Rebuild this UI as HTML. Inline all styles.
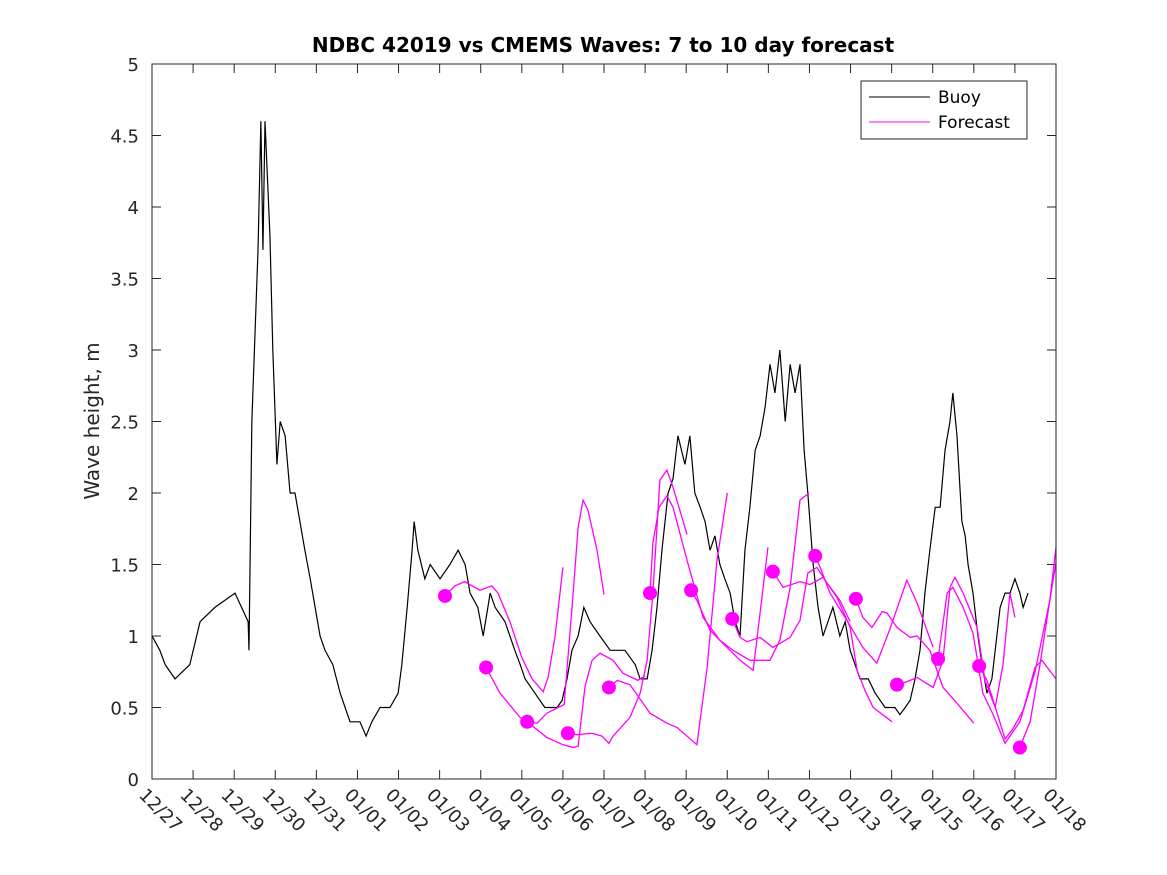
<!DOCTYPE html>
<html><head><meta charset="utf-8"><style>
body{margin:0;background:#fff;}
svg{display:block;font-family:"DejaVu Sans","Liberation Sans",sans-serif;}
</style></head><body>
<svg id="chart" width="1167" height="875" viewBox="0 0 1167 875">
<rect x="0" y="0" width="1167" height="875" fill="#fff"/>
<defs><clipPath id="clip"><rect x="152" y="64" width="904" height="715"/></clipPath></defs>
<text x="603" y="52" text-anchor="middle" font-size="20" font-weight="bold" fill="#000">NDBC 42019 vs CMEMS Waves: 7 to 10 day forecast</text>
<text transform="translate(99,421) rotate(-90)" text-anchor="middle" font-size="20" fill="#262626">Wave height, m</text>
<g id="axes"></g>
<g id="series" clip-path="url(#clip)"></g>
<rect x="152" y="64" width="904" height="715" fill="none" stroke="#262626" stroke-width="1"/>
<g>
<rect x="861" y="81" width="166" height="58" fill="#fff" stroke="#262626" stroke-width="1"/>
<line x1="869" y1="97" x2="930" y2="97" stroke="#000" stroke-width="1"/>
<text x="938" y="103" font-size="17" fill="#000">Buoy</text>
<line x1="869" y1="122" x2="930" y2="122" stroke="#f0f" stroke-width="1"/>
<text x="938" y="128" font-size="17" fill="#000">Forecast</text>
</g>
</svg>
<script>
const xTickLabels=["12/27","12/28","12/29","12/30","12/31","01/01","01/02","01/03","01/04","01/05","01/06","01/07","01/08","01/09","01/10","01/11","01/12","01/13","01/14","01/15","01/16","01/17","01/18"];
const yTicks=[0,0.5,1,1.5,2,2.5,3,3.5,4,4.5,5];
const yTickLabels=["0","0.5","1","1.5","2","2.5","3","3.5","4","4.5","5"];
const buoyDays=[0,0.19,0.32,0.56,0.92,1.17,1.53,2.02,2.34,2.36,2.43,2.58,2.65,2.70,2.75,2.87,2.94,3.04,3.12,3.24,3.36,3.48,3.60,3.72,3.85,3.97,4.09,4.21,4.40,4.58,4.70,4.82,5.06,5.21,5.35,5.55,5.79,5.99,6.08,6.21,6.33,6.38,6.47,6.64,6.77,7.01,7.25,7.45,7.62,7.74,7.93,8.06,8.23,8.35,8.59,8.83,8.96,9.08,9.32,9.56,9.86,9.98,10.10,10.22,10.37,10.51,10.66,10.90,11.15,11.51,11.76,11.88,12.05,12.17,12.29,12.41,12.56,12.68,12.80,12.97,13.09,13.21,13.34,13.46,13.58,13.70,13.82,13.94,14.07,14.19,14.31,14.43,14.55,14.68,14.80,14.92,15.04,15.16,15.28,15.41,15.53,15.65,15.77,15.87,15.96,16.09,16.21,16.33,16.45,16.57,16.74,16.87,16.99,17.11,17.23,17.43,17.60,17.84,18.08,18.20,18.33,18.45,18.57,18.69,18.81,18.93,19.06,19.18,19.30,19.42,19.49,19.59,19.71,19.79,19.86,19.98,20.10,20.20,20.32,20.44,20.52,20.64,20.76,20.88,21.00,21.12,21.20,21.32];
const buoyHeights=[1.0,0.9,0.8,0.7,0.8,1.1,1.2,1.3,1.1,0.9,2.5,3.7,4.6,3.7,4.6,3.8,3.0,2.2,2.5,2.4,2.0,2.0,1.8,1.6,1.4,1.2,1.0,0.9,0.8,0.6,0.5,0.4,0.4,0.3,0.4,0.5,0.5,0.6,0.8,1.2,1.6,1.8,1.6,1.4,1.5,1.4,1.5,1.6,1.5,1.3,1.2,1.0,1.3,1.2,1.1,0.9,0.8,0.7,0.6,0.5,0.5,0.55,0.7,0.9,1.0,1.2,1.1,1.0,0.9,0.9,0.8,0.7,0.7,0.9,1.2,1.6,2.0,2.1,2.4,2.2,2.4,2.0,1.9,1.8,1.6,1.7,1.5,1.4,1.3,1.1,1.0,1.6,1.9,2.3,2.4,2.6,2.9,2.7,3.0,2.5,2.9,2.7,2.9,2.3,2.0,1.5,1.2,1.0,1.1,1.2,1.0,1.1,0.9,0.8,0.7,0.7,0.6,0.5,0.5,0.45,0.5,0.55,0.7,0.9,1.3,1.6,1.9,1.9,2.3,2.5,2.7,2.4,1.8,1.7,1.5,1.3,1.0,0.8,0.6,0.7,0.9,1.2,1.3,1.3,1.4,1.3,1.2,1.3];
const fc1Days=[7.13,7.37,7.61,7.98,8.27,8.42,8.71,9.00,9.25,9.52,9.64,9.81,10.00];
const fc1Heights=[1.28,1.35,1.38,1.32,1.35,1.30,1.10,0.85,0.70,0.61,0.71,1.0,1.48];
const fc2Days=[8.13,8.47,8.96,9.13,9.37,9.61,9.88,10.03,10.25,10.37,10.49,10.61,10.83,11.00];
const fc2Heights=[0.78,0.60,0.43,0.40,0.39,0.46,0.50,0.52,1.30,1.76,1.95,1.88,1.60,1.29];
const fc3Days=[9.13,9.61,10.00,10.25,10.37,10.54,10.71,10.90,11.22,11.46,11.82,12.00];
const fc3Heights=[0.40,0.29,0.24,0.22,0.23,0.65,0.83,0.88,0.83,0.74,0.69,0.72];
const fc4Days=[10.12,10.34,10.71,10.95,11.12,11.22,11.63,11.88,12.05,12.19,12.36,12.53,12.68,13.02];
const fc4Heights=[0.32,0.31,0.32,0.30,0.25,0.30,0.43,0.60,0.83,1.30,2.09,2.16,2.04,1.71];
const fc5Days=[11.12,11.32,11.63,12.12,12.53,12.78,13.26,13.51,13.75,14.00];
const fc5Heights=[0.64,0.69,0.66,0.46,0.39,0.36,0.24,0.78,1.53,2.0];
const fc6Days=[12.12,12.19,12.34,12.53,12.68,13.02,13.41,13.82,14.31,14.63,14.99];
const fc6Heights=[1.30,1.65,1.90,1.98,1.90,1.53,1.13,0.97,0.83,0.76,1.62];
const fc7Days=[13.12,13.26,13.58,13.82,14.14,14.55,15.04,15.28,15.53,15.77,15.99];
const fc7Heights=[1.32,1.25,1.04,0.97,0.90,0.83,0.83,0.97,1.34,1.95,2.0];
const fc8Days=[14.12,14.31,14.48,14.80,15.11,15.53,15.77,15.96,16.18,16.43,16.74,16.99];
const fc8Heights=[1.12,0.99,0.96,0.99,0.92,0.99,1.11,1.44,1.48,1.37,1.25,1.10];
const fc9Days=[15.11,15.36,15.77,16.01,16.33,16.67,16.99,17.16,17.35,17.55,18.01];
const fc9Heights=[1.45,1.34,1.38,1.36,1.41,1.27,1.06,0.76,0.62,0.50,0.40];
const fc10Days=[16.14,16.26,16.50,16.91,17.30,17.64,17.96,18.37,18.62,19.01];
const fc10Heights=[1.56,1.48,1.30,1.11,0.92,0.81,1.05,1.39,1.23,0.92];
const fc11Days=[17.13,17.30,17.52,17.77,17.89,18.13,18.45,18.62,18.93,19.25,19.59,20.00];
const fc11Heights=[1.26,1.13,1.06,1.17,1.16,1.06,0.99,1.0,0.90,0.64,0.53,0.39];
const fc12Days=[18.13,18.37,18.62,19.01,19.25,19.42,19.54,19.74,20.08,20.27,20.52,20.71,20.88,21.00];
const fc12Heights=[0.66,0.68,0.71,0.64,0.83,1.34,1.41,1.30,1.06,0.69,0.50,0.80,1.30,1.13];
const fc13Days=[19.13,19.35,19.49,19.74,19.98,20.22,20.47,20.76,21.12,21.49,21.85,22.0];
const fc13Heights=[0.84,1.30,1.34,1.20,1.02,0.60,0.45,0.25,0.40,0.75,1.25,1.62];
const fc14Days=[20.13,20.32,20.47,20.76,20.95,21.20,21.49,21.66,22.00];
const fc14Heights=[0.79,0.69,0.55,0.28,0.35,0.48,0.78,0.83,0.70];
const fc15Days=[21.12,21.37,21.61,21.85,22.02];
const fc15Heights=[0.22,0.40,0.80,1.25,1.55];

const NS="http://www.w3.org/2000/svg";
const X0=152,X1=1056,Y0=779,Y1=64,DMAX=22,HMAX=5;
function xs(d){return X0+(X1-X0)*d/DMAX;}
function ys(h){return Y0-(Y0-Y1)*h/HMAX;}
function mk(tag,attrs,parent){const e=document.createElementNS(NS,tag);for(const k in attrs)e.setAttribute(k,attrs[k]);parent.appendChild(e);return e;}
const axes=document.getElementById('axes'),series=document.getElementById('series');
xTickLabels.forEach((lab,i)=>{
  const x=xs(i);
  const t1=mk('line',{x1:x,y1:Y0,x2:x,y2:Y0-9,stroke:'#262626'},axes);
  
  
  const t2=mk('line',{x1:x,y1:Y1,x2:x,y2:Y1+9,stroke:'#262626'},axes);
  
  
  const tx=mk('text',{transform:`translate(${x-14},${Y0+17}) rotate(45)`,'font-size':'18',fill:'#262626'},axes);
  tx.textContent=lab;
  
  
});
yTicks.forEach((v,i)=>{
  const y=ys(v);
  const t1=mk('line',{x1:X0,y1:y,x2:X0+9,y2:y,stroke:'#262626'},axes);
  
  
  const t2=mk('line',{x1:X1,y1:y,x2:X1-9,y2:y,stroke:'#262626'},axes);
  
  
  const tx=mk('text',{x:X0-13,y:y+7,'text-anchor':'end','font-size':'18',fill:'#262626'},axes);
  tx.textContent=yTickLabels[i];
  
  
});
const bpts=buoyDays.map((t,i)=>xs(t)+','+ys(buoyHeights[i])).join(' ');
const bp=mk('polyline',{points:bpts,fill:'none',stroke:'#000','stroke-width':'1.2'},series);


const fcs=[[fc1Days,fc1Heights],[fc2Days,fc2Heights],[fc3Days,fc3Heights],[fc4Days,fc4Heights],[fc5Days,fc5Heights],[fc6Days,fc6Heights],[fc7Days,fc7Heights],[fc8Days,fc8Heights],[fc9Days,fc9Heights],[fc10Days,fc10Heights],[fc11Days,fc11Heights],[fc12Days,fc12Heights],[fc13Days,fc13Heights],[fc14Days,fc14Heights],[fc15Days,fc15Heights]];
fcs.forEach(([ds,hs])=>{
  const pts=ds.map((t,i)=>xs(t)+','+ys(hs[i])).join(' ');
  const pl=mk('polyline',{points:pts,fill:'none',stroke:'#f0f','stroke-width':'1.3'},series);
  
  
});
fcs.forEach(([ds,hs])=>{
  const c=mk('circle',{cx:xs(ds[0]),cy:ys(hs[0]),r:'7',fill:'#f0f'},series);
  
  
});
</script>
</body></html>
